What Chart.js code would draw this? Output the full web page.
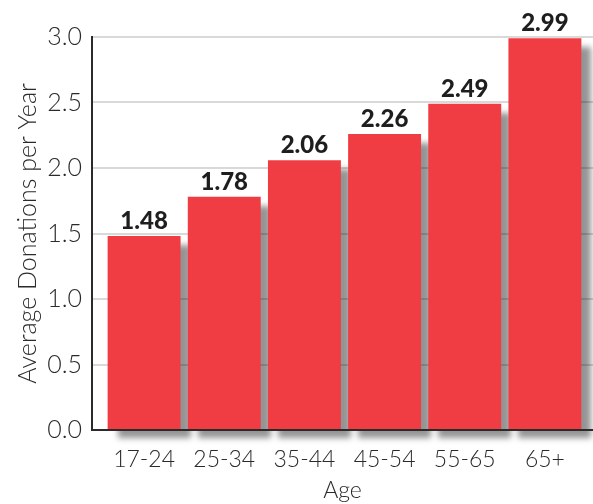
<!DOCTYPE html>
<html>
<head>
<meta charset="utf-8">
<script src="https://cdn.jsdelivr.net/npm/chart.js"></script>
<style>
  body { margin: 0; background: #fff; }
  #wrap { width: 593px; height: 504px; }
</style>
</head>
<body>
<div id="wrap"><canvas id="donChart" width="593" height="504"></canvas></div>
<script>
var ageGroups = ['17-24', '25-34', '35-44', '45-54', '55-65', '65+'];
var donations = [1.48, 1.78, 2.06, 2.26, 2.49, 2.99];
var yTicks = [0, 0.5, 1, 1.5, 2, 2.5, 3];

var textColor = '#2a2a2a';
var fontFam = 'Lato, "Open Sans", sans-serif';

// bars sit on a linear x axis so the first bar can start a bit away from the y axis
var points = donations.map(function (v, i) { return { x: i, y: v }; });

var shadowAndLabels = {
  id: 'shadowAndLabels',
  beforeDatasetsDraw: function (chart) {
    var c = chart.ctx;
    c.save();
    c.shadowColor = 'rgba(0,0,0,0.42)';
    c.shadowOffsetX = 10;
    c.shadowOffsetY = 9;
    c.shadowBlur = 6;
  },
  afterDatasetsDraw: function (chart) {
    var c = chart.ctx;
    c.restore();
    var meta = chart.getDatasetMeta(0);
    c.save();
    c.font = '900 24px ' + fontFam;
    c.fillStyle = '#1e1e1e';
    c.textAlign = 'center';
    c.textBaseline = 'bottom';
    meta.data.forEach(function (bar, i) {
      c.fillText(donations[i].toFixed(2), bar.x, bar.y - 3);
    });
    c.restore();
  }
};

var barChart = new Chart(document.getElementById('donChart'), {
  type: 'bar',
  data: {
    datasets: [{
      data: points,
      backgroundColor: '#ef3d43',
      borderWidth: 0,
      barPercentage: 0.91,
      categoryPercentage: 1,
      clip: false
    }]
  },
  options: {
    responsive: false,
    animation: false,
    layout: { padding: { top: 37, right: 0, bottom: 0, left: 0 } },
    plugins: { legend: { display: false }, tooltip: { enabled: false } },
    scales: {
      x: {
        type: 'linear',
        offset: false,
        min: -0.65,
        max: 5.6,
        afterBuildTicks: function (scale) {
          scale.ticks = ageGroups.map(function (g, i) { return { value: i }; });
        },
        afterFit: function (scale) { scale.height = 74; },
        grid: { display: false, offset: false },
        border: { display: true, color: '#2a2a2a', width: 2, z: 1 },
        ticks: {
          color: textColor,
          font: { family: fontFam, size: 23, weight: '300' },
          padding: 8,
          maxRotation: 0,
          autoSkip: false,
          callback: function (v) { return ageGroups[v]; }
        },
        title: {
          display: true,
          text: 'Age',
          color: textColor,
          font: { family: fontFam, size: 23, weight: '300' },
          padding: { top: 0, bottom: 0 }
        }
      },
      y: {
        min: 0,
        max: 3,
        afterBuildTicks: function (scale) {
          scale.ticks = yTicks.map(function (v) { return { value: v }; });
        },
        afterFit: function (scale) { scale.width = 92; },
        grid: { color: '#d9d9d9', lineWidth: 2, drawTicks: false },
        border: { display: true, color: '#2a2a2a', width: 2, z: 1 },
        ticks: {
          color: textColor,
          font: { family: fontFam, size: 25, weight: '300' },
          padding: 10,
          callback: function (v) { return v.toFixed(1); }
        },
        title: {
          display: true,
          text: 'Average Donations per Year',
          color: textColor,
          font: { family: fontFam, size: 25, weight: '300' },
          padding: { top: 13, bottom: 0 }
        }
      }
    }
  },
  plugins: [shadowAndLabels]
});
</script>
</body>
</html>
